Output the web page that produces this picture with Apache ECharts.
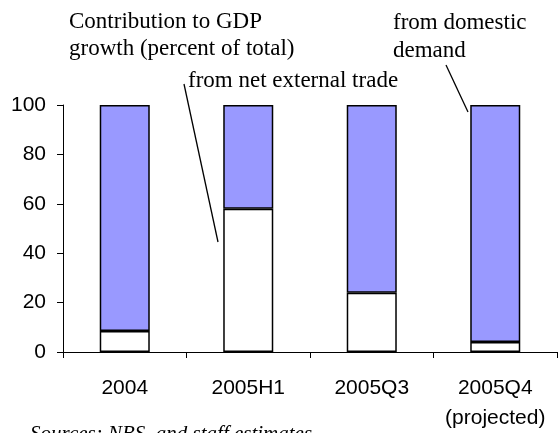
<!DOCTYPE html>
<html>
<head>
    <meta charset="utf-8">
</head>
<body style="margin: 0">
<div id="container" style="width: 558px; height: 433px"></div>

<script type="text/javascript" src="https://cdn.jsdelivr.net/npm/echarts@6/dist/echarts.min.js"></script>
<script type="text/javascript">
    // data
    var periods = ['2004', '2005H1', '2005Q3', '2005Q4\n(projected)'];
    var fromExternal = [8.5, 58, 24, 4];
    var fromDomestic = [91.5, 42, 76, 96];
    var yTicks = [0, 20, 40, 60, 80, 100];

    var serif = '"Liberation Serif", "Times New Roman", serif';
    var sans = '"Liberation Sans", Arial, sans-serif';

    var myChart = echarts.init(document.getElementById('container'), null, { renderer: 'canvas' });

    function note(text, x, y) {
        return {
            type: 'text',
            style: { text: text, x: x, y: y, font: '23px ' + serif, fill: '#000', verticalAlign: 'middle' }
        };
    }

    var option = {
        animation: false,
        grid: { left: 63, right: 1, top: 105, bottom: 80 },
        xAxis: {
            type: 'category',
            data: periods,
            axisLine: { lineStyle: { color: '#000', width: 1 } },
            axisTick: { show: true, length: 6, lineStyle: { color: '#000' } },
            axisLabel: { color: '#000', fontFamily: sans, fontSize: 21, lineHeight: 30, margin: 21, interval: 0 }
        },
        yAxis: {
            type: 'value',
            min: yTicks[0],
            max: yTicks[yTicks.length - 1],
            interval: 20,
            splitLine: { show: false },
            axisLine: { show: true, lineStyle: { color: '#000', width: 1 } },
            axisTick: { show: true, length: 6, lineStyle: { color: '#000' } },
            axisLabel: { color: '#000', fontFamily: sans, fontSize: 21, margin: 17 }
        },
        series: [
            {
                name: 'from net external trade',
                type: 'bar',
                stack: 'total',
                barWidth: '40.5%',
                data: fromExternal,
                itemStyle: { color: '#ffffff', borderColor: '#000', borderWidth: 1.5 }
            },
            {
                name: 'from domestic demand',
                type: 'bar',
                stack: 'total',
                data: fromDomestic,
                itemStyle: { color: '#9999ff', borderColor: '#000', borderWidth: 1.5 }
            }
        ],
        graphic: [
            note('Contribution to GDP', 69, 22),
            note('growth (percent of total)', 69, 49),
            note('from net external trade', 188, 81),
            note('from domestic', 393, 23),
            note('demand', 393, 51),
            { type: 'line', shape: { x1: 184, y1: 84, x2: 218, y2: 242 }, style: { stroke: '#000', lineWidth: 1.3 } },
            { type: 'line', shape: { x1: 446, y1: 65, x2: 468, y2: 112 }, style: { stroke: '#000', lineWidth: 1.3 } },
            {
                type: 'text',
                style: { text: 'Sources: NBS, and staff estimates.', x: 30, y: 434, font: 'italic 21px ' + serif, fill: '#000', verticalAlign: 'middle' }
            }
        ]
    };

    myChart.setOption(option);
</script>
</body>
</html>
